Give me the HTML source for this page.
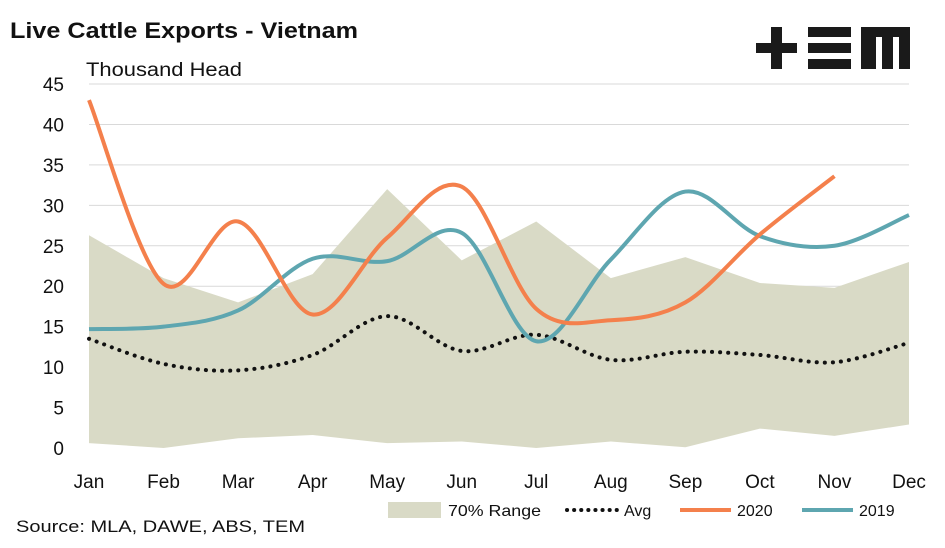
<!DOCTYPE html>
<html><head><meta charset="utf-8"><style>
body{margin:0;background:#fff;width:945px;height:543px;overflow:hidden;font-family:"Liberation Sans",sans-serif}
</style></head><body>
<svg id="chart" width="945" height="543" xmlns="http://www.w3.org/2000/svg">
<text x="10" y="38" font-size="22" font-weight="bold" fill="#111" textLength="348" lengthAdjust="spacingAndGlyphs">Live Cattle Exports - Vietnam</text>
<text x="86" y="76" font-size="19" fill="#111" textLength="156" lengthAdjust="spacingAndGlyphs">Thousand Head</text>
<g fill="#1a1a1a">
<rect x="756" y="43" width="41" height="10"/><rect x="771" y="27" width="11" height="42"/>
<rect x="808" y="27" width="43" height="10"/><rect x="808" y="43" width="43" height="10"/><rect x="808" y="59" width="43" height="10"/>
<path d="M861 27H910V69H899V37H893V69H882V37H876V69H861Z"/>
</g>
<g id="grid"></g><g id="plot"></g><g id="axes"></g>
<text x="16" y="532" font-size="17" fill="#111" textLength="289" lengthAdjust="spacingAndGlyphs">Source: MLA, DAWE, ABS, TEM</text>
<g font-size="16" fill="#111">
<rect x="388" y="502" width="53" height="16" fill="#d9dac6"/>
<text x="448" y="516" textLength="93" lengthAdjust="spacingAndGlyphs">70% Range</text>
<line x1="567" y1="510" x2="618" y2="510" stroke="#111" stroke-width="4" stroke-dasharray="0.1 7" stroke-linecap="round"/>
<text x="624" y="516">Avg</text>
<line x1="680" y1="510" x2="731" y2="510" stroke="#f4804c" stroke-width="4"/>
<text x="737" y="516">2020</text>
<line x1="802" y1="510" x2="853" y2="510" stroke="#5ea6b0" stroke-width="4"/>
<text x="859" y="516">2019</text>
</g>
</svg>
<script>
const months=["Jan","Feb","Mar","Apr","May","Jun","Jul","Aug","Sep","Oct","Nov","Dec"];
const yTicks=[0,5,10,15,20,25,30,35,40,45];
const rangeHigh=[26.3,21,18,21.5,32,23.2,28,21,23.6,20.4,19.8,23];
const rangeLow=[0.6,0,1.2,1.6,0.6,0.8,0,0.8,0.1,2.4,1.5,2.9];
const avg=[13.5,10.4,9.6,11.5,16.3,12,14,10.9,11.9,11.5,10.6,13];
const s2020=[43,20.3,28,16.5,26,32.3,17.2,15.8,18,26.4,33.6];
const s2019=[14.7,15,17,23.4,23.1,26.6,13.2,23.3,31.7,26.2,25,28.8];
const NS="http://www.w3.org/2000/svg";
const x=i=>89+i*(909-89)/11, y=v=>448-v*(448-84)/45;
function mk(t,a,p){const e=document.createElementNS(NS,t);for(const k in a)e.setAttribute(k,a[k]);p.appendChild(e);return e;}
const grid=document.getElementById('grid'),plot=document.getElementById('plot'),axes=document.getElementById('axes');
yTicks.forEach(v=>{
 if(v>0){const l=mk('line',{x1:89,x2:909,y1:y(v),y2:y(v),stroke:'#d9d9d9','stroke-width':1},grid);
 
 }
 const t=mk('text',{x:64,y:y(v)+7,'font-size':19,'text-anchor':'end',fill:'#111'},axes);t.textContent=v;
 
 
});
months.forEach((m,i)=>{const t=mk('text',{x:x(i),y:488,'font-size':19,'text-anchor':'middle',fill:'#111'},axes);t.textContent=m;
 
 });
let d='M'+rangeHigh.map((v,i)=>x(i)+' '+y(v)).join('L')+'L'+rangeLow.map((v,i)=>[i,v]).reverse().map(([i,v])=>x(i)+' '+y(v)).join('L')+'Z';
const area=mk('path',{d:d,fill:'#d9dac6'},plot);


function smooth(arr){const p=arr.map((v,i)=>[x(i),y(v)]);let s='M'+p[0][0]+' '+p[0][1];
 for(let i=0;i<p.length-1;i++){const p0=p[i-1]||p[i],p1=p[i],p2=p[i+1],p3=p[i+2]||p2;
 const c1=[p1[0]+(p2[0]-p0[0])/6,p1[1]+(p2[1]-p0[1])/6],c2=[p2[0]-(p3[0]-p1[0])/6,p2[1]-(p3[1]-p1[1])/6];
 s+='C'+c1+' '+c2+' '+p2;}return s;}
const a=mk('path',{d:smooth(avg),fill:'none',stroke:'#111','stroke-width':4,'stroke-dasharray':'0.1 8','stroke-linecap':'round'},plot);


const b=mk('path',{d:smooth(s2019),fill:'none',stroke:'#5ea6b0','stroke-width':4},plot);


const c=mk('path',{d:smooth(s2020),fill:'none',stroke:'#f4804c','stroke-width':4},plot);


</script>
</body></html>
